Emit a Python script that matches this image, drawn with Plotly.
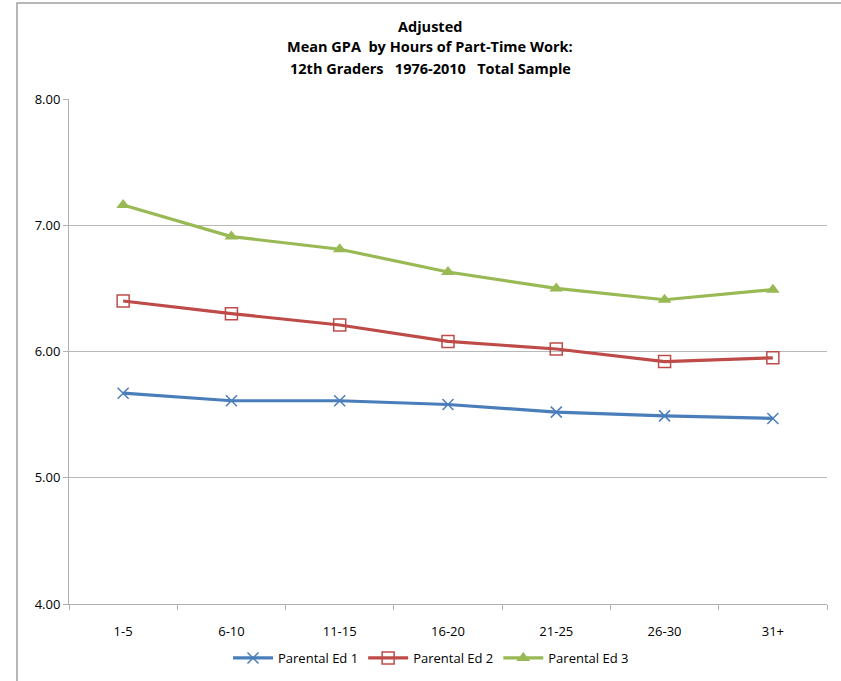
import plotly.graph_objects as go

categories = ["1-5", "6-10", "11-15", "16-20", "21-25", "26-30", "31+"]
ed1 = [5.67, 5.61, 5.61, 5.58, 5.52, 5.49, 5.47]
ed2 = [6.40, 6.30, 6.21, 6.08, 6.02, 5.92, 5.95]
ed3 = [7.16, 6.91, 6.81, 6.63, 6.50, 6.41, 6.49]
series_names = ["Parental Ed 1", "Parental Ed 2", "Parental Ed 3"]
title_lines = ["Adjusted", "Mean GPA  by Hours of Part-Time Work:",
               "12th Graders   1976-2010   Total Sample"]
ytick_vals = [4, 5, 6, 7, 8]
ytick_text = ["4.00", "5.00", "6.00", "7.00", "8.00"]

FONT = "Open Sans"
W, H = 841, 681

fig = go.Figure()
fig.add_trace(go.Scatter(
    x=categories, y=ed1, name=series_names[0], mode="lines+markers",
    line=dict(color="#4a7ebb", width=3.2),
    marker=dict(symbol="x-thin-open", size=11, color="#4a7ebb",
                line=dict(color="#4a7ebb", width=1.5))))
fig.add_trace(go.Scatter(
    x=categories, y=ed2, name=series_names[1], mode="lines+markers",
    line=dict(color="#be4b48", width=3.2),
    marker=dict(symbol="square-open", size=12, color="#be4b48",
                line=dict(color="#be4b48", width=1.5))))
fig.add_trace(go.Scatter(
    x=categories, y=ed3, name=series_names[2], mode="lines+markers",
    line=dict(color="#98b954", width=3.2),
    marker=dict(symbol="triangle-up", size=12, color="#98b954")))

title_y = [26, 47, 69]
annotations = [
    dict(text="<b>%s</b>" % t, xref="paper", yref="paper",
         x=(430 - 69) / 758, y=(604 - yy) / 505, xanchor="center",
         yanchor="middle", showarrow=False,
         font=dict(family=FONT, size=14.5, color="#000000"))
    for t, yy in zip(title_lines, title_y)
]

fig.update_layout(
    width=W, height=H,
    margin=dict(l=69, r=14, t=99, b=77),
    paper_bgcolor="white", plot_bgcolor="white",
    font=dict(family=FONT, size=13, color="#000000"),
    annotations=annotations,
    legend=dict(orientation="h", x=431 / W, xanchor="center", xref="container",
                y=1 - 658 / H, yanchor="middle", yref="container",
                font=dict(family=FONT, size=13), itemwidth=40,
                traceorder="normal"),
    showlegend=True,
    shapes=[dict(type="rect", xref="paper", yref="paper",
                 x0=(17 - 69) / 758, x1=(850 - 69) / 758,
                 y0=(604 - 700) / 505, y1=(604 - 3) / 505,
                 line=dict(color="#a0a0a0", width=1.5), layer="below")],
)
fig.update_xaxes(
    type="category", showgrid=False, showline=True, linecolor="#b0b0b0",
    linewidth=1, ticks="outside", tickson="boundaries", ticklen=5,
    tickcolor="#b0b0b0", tickfont=dict(family=FONT, size=13),
    ticklabelstandoff=15, automargin=False, range=[-0.5, 6.5])
fig.update_yaxes(
    range=[4, 8], tickvals=ytick_vals, ticktext=ytick_text,
    showgrid=True, gridcolor="#b8b8b8", gridwidth=1,
    showline=True, linecolor="#b0b0b0", linewidth=1,
    ticks="outside", ticklen=5, tickcolor="#b0b0b0", automargin=False,
    tickfont=dict(family=FONT, size=13), zeroline=False)

fig.write_html("out.html", config={"displayModeBar": False},
               post_script="document.body.style.margin='0';document.body.style.overflow='hidden';")
